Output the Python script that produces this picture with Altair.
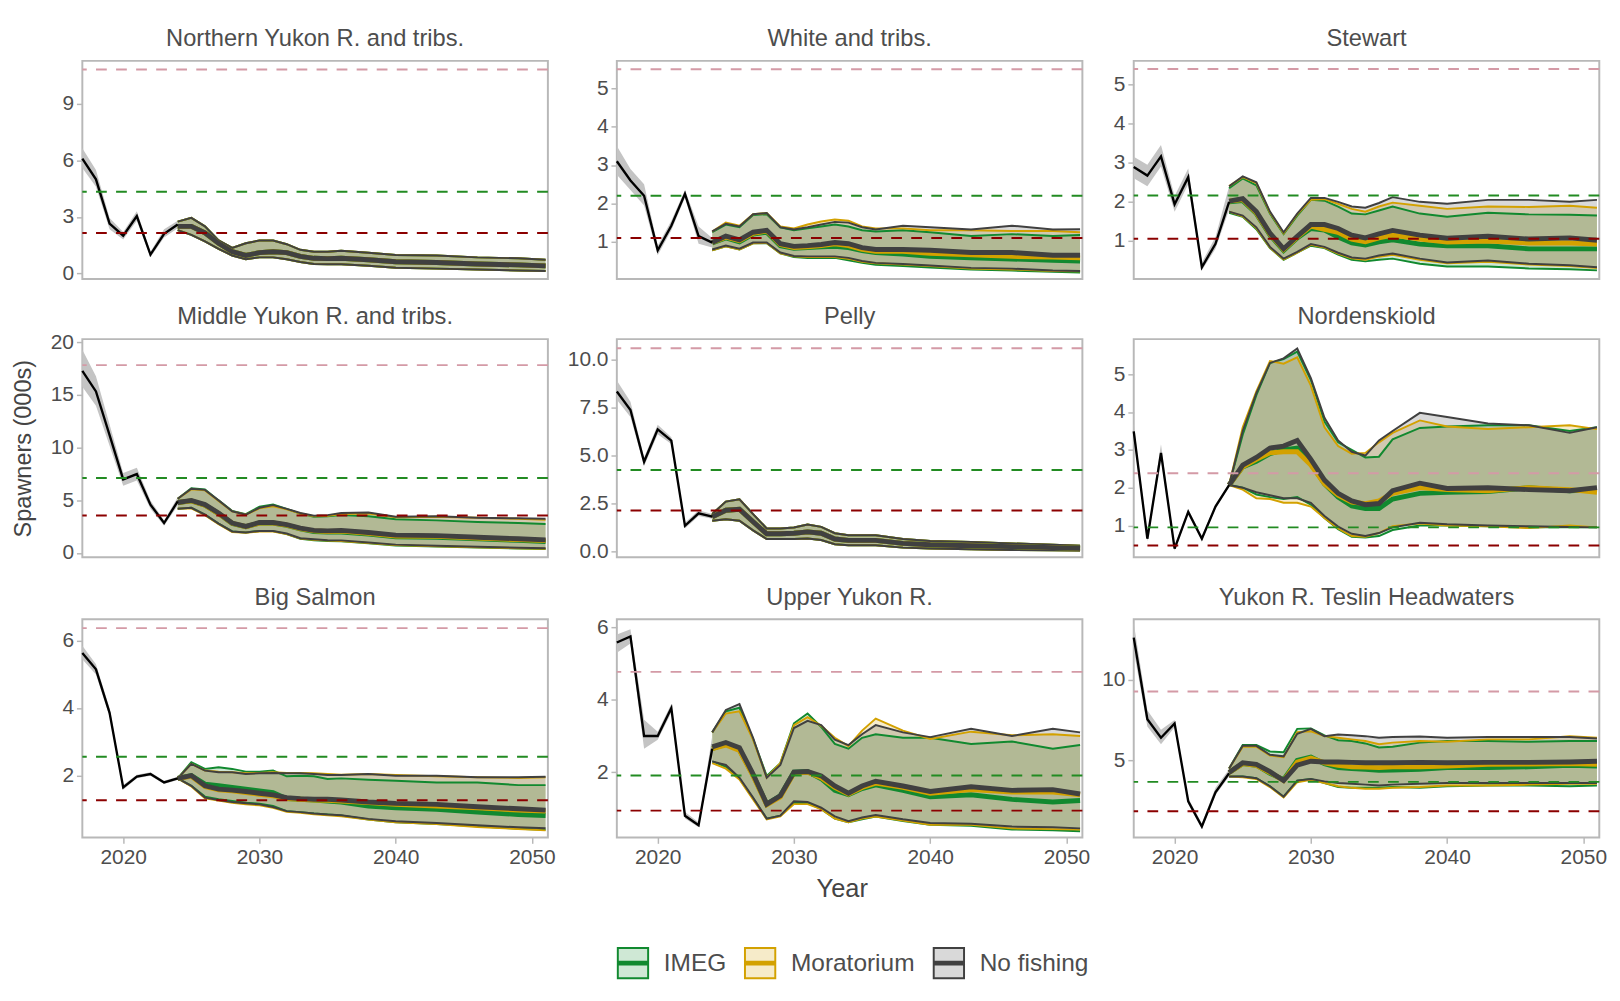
import altair as alt
import pandas as pd

HIST_YEARS = list(range(2017, 2025))
PROJ_YEARS = list(range(2024, 2037)) + [2038, 2040, 2043, 2046, 2049, 2051]
SCENARIOS = ["IMEG", "Moratorium", "No fishing"]
LINE_COLORS = ["#11892f", "#d3a100", "#404040"]
LEGEND_FILLS = ["#cfe8d5", "#f6ebc9", "#d9d9d9"]
REF_COLORS = ["#d49aa6", "#228b22", "#8b0000"]
X_TICKS = [2020, 2030, 2040, 2050]
X_DOMAIN = [2017, 2051.17]

# Northern Yukon R. and tribs. (scenarios overlap)
NY_HIST = [6.1, 5.0, 2.65, 2.0, 3.05, 1.0, 2.1, 2.6]
NY_HIST_LO = [5.6, 4.6, 2.35, 1.8, 2.8, 0.85, 1.9, 2.4]
NY_HIST_HI = [6.65, 5.5, 2.95, 2.2, 3.3, 1.15, 2.35, 2.8]
NY_HI = [2.75, 2.95, 2.5, 1.75, 1.35, 1.6, 1.75, 1.75, 1.55, 1.25, 1.15, 1.15, 1.2, 1.1, 0.98, 0.95, 0.85, 0.8, 0.72]
NY_MED = [2.5, 2.5, 2.15, 1.6, 1.15, 0.95, 1.1, 1.15, 1.1, 0.9, 0.8, 0.78, 0.8, 0.72, 0.62, 0.58, 0.5, 0.45, 0.4]
NY_LO = [2.3, 2.05, 1.7, 1.3, 0.95, 0.75, 0.85, 0.85, 0.75, 0.6, 0.5, 0.48, 0.48, 0.4, 0.3, 0.25, 0.2, 0.15, 0.12]
NY_REFS = [10.84, 4.34, 2.15]
NY_YDOM = [-0.3, 11.3]
NY_TICKS = [0, 3, 6, 9]

# White and tribs.
WH_HIST = [3.1, 2.6, 2.2, 0.78, 1.42, 2.25, 1.15, 0.98]
WH_HIST_LO = [2.75, 2.35, 1.95, 0.65, 1.3, 2.15, 0.95, 0.85]
WH_HIST_HI = [3.5, 2.9, 2.5, 0.9, 1.55, 2.35, 1.4, 1.1]
WH_NOF_HI = [1.27, 1.47, 1.4, 1.72, 1.75, 1.38, 1.32, 1.38, 1.45, 1.52, 1.5, 1.38, 1.32, 1.42, 1.38, 1.32, 1.42, 1.32, 1.33]
WH_MOR_HI = [1.27, 1.5, 1.42, 1.72, 1.75, 1.4, 1.35, 1.45, 1.53, 1.58, 1.55, 1.4, 1.35, 1.35, 1.3, 1.3, 1.28, 1.28, 1.25]
WH_IMEG_HI = [1.25, 1.45, 1.38, 1.7, 1.72, 1.38, 1.3, 1.35, 1.4, 1.45, 1.4, 1.3, 1.27, 1.3, 1.25, 1.15, 1.2, 1.15, 1.18]
WH_NOF_MED = [0.98, 1.15, 1.05, 1.25, 1.3, 0.95, 0.88, 0.9, 0.93, 0.98, 0.95, 0.85, 0.8, 0.8, 0.78, 0.72, 0.72, 0.65, 0.65]
WH_MOR_MED = [0.98, 1.12, 1.03, 1.22, 1.28, 0.93, 0.85, 0.87, 0.9, 0.95, 0.9, 0.8, 0.75, 0.75, 0.7, 0.66, 0.62, 0.6, 0.58]
WH_IMEG_MED = [0.97, 1.1, 1.0, 1.2, 1.25, 0.9, 0.83, 0.85, 0.87, 0.88, 0.85, 0.77, 0.72, 0.68, 0.62, 0.58, 0.55, 0.52, 0.5]
WH_NOF_LO = [0.8, 0.9, 0.82, 0.98, 0.98, 0.72, 0.63, 0.62, 0.62, 0.62, 0.58, 0.5, 0.45, 0.42, 0.38, 0.32, 0.3, 0.25, 0.24]
WH_MOR_LO = [0.78, 0.88, 0.8, 0.96, 0.97, 0.7, 0.62, 0.6, 0.6, 0.6, 0.56, 0.48, 0.44, 0.41, 0.37, 0.3, 0.28, 0.24, 0.23]
WH_IMEG_LO = [0.78, 0.88, 0.8, 0.96, 0.96, 0.7, 0.6, 0.58, 0.58, 0.58, 0.52, 0.45, 0.4, 0.37, 0.33, 0.28, 0.25, 0.22, 0.2]
WH_REFS = [5.5, 2.2, 1.1]
WH_YDOM = [0.03, 5.72]
WH_TICKS = [0, 1, 2, 3, 4, 5]

# Stewart
ST_HIST = [2.89, 2.67, 3.16, 1.94, 2.63, 0.33, 0.93, 2.0]
ST_HIST_LO = [2.6, 2.4, 2.9, 1.75, 2.45, 0.25, 0.8, 1.8]
ST_HIST_HI = [3.15, 2.95, 3.45, 2.15, 2.85, 0.45, 1.1, 2.4]
ST_NOF_HI = [2.4, 2.65, 2.5, 1.75, 1.22, 1.7, 2.1, 2.1, 2.0, 1.88, 1.85, 1.97, 2.12, 2.0, 1.95, 2.05, 2.05, 2.0, 2.05]
ST_MOR_HI = [2.4, 2.63, 2.48, 1.73, 1.2, 1.68, 2.05, 2.07, 1.95, 1.82, 1.75, 1.88, 1.98, 1.9, 1.82, 1.88, 1.87, 1.9, 1.85]
ST_IMEG_HI = [2.35, 2.6, 2.42, 1.7, 1.18, 1.65, 2.05, 2.03, 1.88, 1.7, 1.68, 1.78, 1.88, 1.7, 1.62, 1.72, 1.68, 1.67, 1.65]
ST_NOF_MED = [2.02, 2.08, 1.75, 1.2, 0.8, 1.12, 1.42, 1.42, 1.32, 1.15, 1.08, 1.18, 1.27, 1.15, 1.07, 1.12, 1.05, 1.08, 1.02]
ST_MOR_MED = [2.02, 2.06, 1.72, 1.18, 0.78, 1.1, 1.38, 1.3, 1.22, 1.05, 0.98, 1.08, 1.15, 1.05, 0.97, 1.0, 0.95, 0.95, 0.92]
ST_IMEG_MED = [2.0, 2.03, 1.7, 1.15, 0.76, 1.08, 1.32, 1.28, 1.1, 0.95, 0.9, 0.98, 1.03, 0.92, 0.88, 0.88, 0.8, 0.8, 0.8]
ST_NOF_LO = [1.75, 1.65, 1.35, 0.85, 0.55, 0.72, 0.92, 0.85, 0.7, 0.58, 0.55, 0.63, 0.68, 0.55, 0.45, 0.5, 0.42, 0.38, 0.33]
ST_MOR_LO = [1.75, 1.63, 1.33, 0.83, 0.53, 0.7, 0.9, 0.83, 0.68, 0.56, 0.52, 0.6, 0.65, 0.52, 0.43, 0.47, 0.4, 0.36, 0.31]
ST_IMEG_LO = [1.72, 1.62, 1.3, 0.82, 0.52, 0.7, 0.88, 0.82, 0.65, 0.52, 0.48, 0.52, 0.55, 0.42, 0.35, 0.35, 0.3, 0.28, 0.25]
ST_REFS = [5.39, 2.16, 1.06]
ST_YDOM = [0.03, 5.6]
ST_TICKS = [0, 1, 2, 3, 4, 5]

# Middle Yukon R. and tribs.
MY_HIST = [17.3, 15.35, 11.2, 7.0, 7.5, 4.6, 2.85, 4.9]
MY_HIST_LO = [15.8, 14.0, 10.2, 6.4, 6.9, 4.2, 2.6, 4.5]
MY_HIST_HI = [19.3, 16.8, 12.2, 7.6, 8.1, 5.0, 3.1, 5.3]
MY_NOF_HI = [5.15, 6.1, 6.0, 5.0, 3.97, 3.65, 4.3, 4.55, 4.2, 3.8, 3.55, 3.6, 3.8, 3.85, 3.45, 3.5, 3.35, 3.3, 3.25]
MY_MOR_HI = [5.15, 6.05, 5.95, 4.95, 3.95, 3.65, 4.25, 4.45, 4.15, 3.75, 3.5, 3.55, 3.7, 3.75, 3.4, 3.45, 3.35, 3.25, 3.15]
MY_IMEG_HI = [5.15, 6.15, 6.05, 5.0, 4.0, 3.7, 4.4, 4.6, 4.2, 3.75, 3.45, 3.5, 3.6, 3.5, 3.2, 3.1, 2.95, 2.85, 2.75]
MY_NOF_MED = [4.8, 5.0, 4.6, 3.8, 2.85, 2.53, 2.9, 2.9, 2.7, 2.37, 2.15, 2.1, 2.15, 1.95, 1.7, 1.65, 1.5, 1.35, 1.25]
MY_MOR_MED = [4.8, 4.95, 4.55, 3.75, 2.82, 2.5, 2.85, 2.85, 2.65, 2.32, 2.1, 2.05, 2.08, 1.88, 1.62, 1.58, 1.42, 1.28, 1.18]
MY_IMEG_MED = [4.8, 4.95, 4.55, 3.75, 2.8, 2.5, 2.85, 2.85, 2.62, 2.3, 2.05, 2.0, 2.0, 1.8, 1.55, 1.5, 1.35, 1.2, 1.1]
MY_NOF_LO = [4.2, 4.3, 3.65, 2.8, 2.05, 1.95, 2.1, 2.1, 1.85, 1.4, 1.3, 1.22, 1.2, 1.0, 0.8, 0.7, 0.6, 0.5, 0.45]
MY_MOR_LO = [4.2, 4.25, 3.6, 2.75, 2.0, 1.92, 2.05, 2.05, 1.8, 1.37, 1.25, 1.18, 1.15, 0.95, 0.75, 0.65, 0.55, 0.45, 0.4]
MY_IMEG_LO = [4.2, 4.3, 3.65, 2.8, 2.05, 1.95, 2.1, 2.08, 1.8, 1.35, 1.22, 1.15, 1.12, 0.92, 0.72, 0.62, 0.52, 0.43, 0.38]
MY_REFS = [17.85, 7.12, 3.56]
MY_YDOM = [-0.4, 20.32]
MY_TICKS = [0, 5, 10, 15, 20]

# Pelly (scenarios overlap)
PE_HIST = [8.33, 7.37, 4.67, 6.36, 5.77, 1.34, 1.99, 1.81]
PE_HIST_LO = [7.9, 7.0, 4.45, 6.1, 5.6, 1.2, 1.85, 1.7]
PE_HIST_HI = [8.9, 7.8, 4.9, 6.6, 5.95, 1.5, 2.15, 1.95]
PE_HI = [1.95, 2.6, 2.72, 1.95, 1.2, 1.2, 1.25, 1.4, 1.28, 0.95, 0.85, 0.85, 0.85, 0.65, 0.55, 0.5, 0.42, 0.35, 0.3]
PE_MED = [1.8, 2.15, 2.2, 1.55, 0.92, 0.92, 0.95, 1.02, 0.95, 0.65, 0.58, 0.58, 0.58, 0.42, 0.35, 0.3, 0.25, 0.2, 0.17]
PE_LO = [1.6, 1.68, 1.6, 1.1, 0.65, 0.65, 0.65, 0.68, 0.6, 0.38, 0.32, 0.32, 0.32, 0.2, 0.15, 0.12, 0.08, 0.06, 0.05]
PE_REFS = [10.58, 4.24, 2.13]
PE_YDOM = [-0.3, 11.06]
PE_TICKS = [0, 2.5, 5, 7.5, 10]

# Nordenskiold
NO_HIST = [3.49, 0.65, 2.92, 0.39, 1.36, 0.65, 1.5, 2.07]
NO_HIST_LO = [3.3, 0.58, 2.75, 0.33, 1.3, 0.6, 1.45, 2.02]
NO_HIST_HI = [3.7, 0.75, 3.15, 0.47, 1.43, 0.72, 1.56, 2.12]
NO_NOF_HI = [2.07, 3.5, 4.5, 5.3, 5.42, 5.68, 4.9, 3.85, 3.25, 2.95, 2.85, 3.25, 3.5, 3.98, 3.87, 3.7, 3.65, 3.45, 3.6]
NO_MOR_HI = [2.07, 3.6, 4.55, 5.35, 5.28, 5.45, 4.7, 3.6, 3.1, 2.9, 2.92, 3.2, 3.45, 3.78, 3.62, 3.55, 3.6, 3.65, 3.55]
NO_IMEG_HI = [2.07, 3.4, 4.45, 5.3, 5.4, 5.6, 4.85, 3.75, 3.2, 3.0, 2.8, 2.82, 3.28, 3.58, 3.62, 3.65, 3.65, 3.5, 3.6]
NO_NOF_MED = [2.07, 2.6, 2.8, 3.05, 3.1, 3.25, 2.75, 2.2, 1.85, 1.65, 1.55, 1.58, 1.92, 2.12, 1.98, 2.0, 1.95, 1.92, 2.0]
NO_MOR_MED = [2.07, 2.55, 2.75, 2.92, 2.95, 2.95, 2.6, 2.1, 1.8, 1.62, 1.58, 1.65, 1.85, 2.0, 1.95, 1.92, 2.0, 1.95, 1.88]
NO_IMEG_MED = [2.07, 2.55, 2.7, 2.9, 3.0, 3.05, 2.65, 2.1, 1.75, 1.52, 1.45, 1.45, 1.7, 1.85, 1.88, 1.9, 2.0, 1.92, 1.95]
NO_NOF_LO = [2.07, 2.0, 1.88, 1.8, 1.72, 1.72, 1.6, 1.25, 0.97, 0.78, 0.72, 0.8, 0.95, 1.07, 1.03, 1.0, 0.98, 0.96, 0.95]
NO_MOR_LO = [2.07, 1.95, 1.72, 1.7, 1.6, 1.6, 1.5, 1.2, 0.92, 0.72, 0.7, 0.8, 0.98, 1.05, 1.0, 0.98, 0.93, 1.0, 0.95]
NO_IMEG_LO = [2.07, 2.0, 1.82, 1.75, 1.7, 1.75, 1.55, 1.2, 0.9, 0.7, 0.68, 0.72, 0.88, 1.0, 1.0, 0.98, 0.95, 0.95, 0.95]
NO_REFS = [2.38, 0.95, 0.47]
NO_YDOM = [0.16, 5.93]
NO_TICKS = [1, 2, 3, 4, 5]

# Big Salmon
BS_HIST = [5.63, 5.15, 3.86, 1.65, 1.97, 2.05, 1.8, 1.92]
BS_HIST_LO = [5.45, 5.0, 3.75, 1.58, 1.92, 2.0, 1.75, 1.87]
BS_HIST_HI = [5.85, 5.3, 4.0, 1.72, 2.03, 2.1, 1.85, 1.97]
BS_NOF_HI = [1.92, 2.35, 2.15, 2.1, 2.1, 2.05, 2.07, 2.08, 2.07, 2.07, 2.05, 2.02, 2.02, 2.05, 2.0, 2.0, 1.95, 1.95, 1.97]
BS_MOR_HI = [1.92, 2.35, 2.15, 2.12, 2.1, 2.07, 2.08, 2.1, 2.08, 2.08, 2.07, 2.05, 2.03, 2.05, 2.02, 1.98, 1.95, 1.93, 1.95]
BS_IMEG_HI = [1.92, 2.4, 2.2, 2.25, 2.2, 2.12, 2.12, 2.15, 1.98, 2.0, 1.98, 1.9, 1.92, 1.88, 1.85, 1.8, 1.8, 1.72, 1.72]
BS_NOF_MED = [1.92, 2.0, 1.7, 1.6, 1.57, 1.53, 1.48, 1.43, 1.35, 1.32, 1.3, 1.3, 1.28, 1.22, 1.18, 1.15, 1.08, 1.02, 0.98]
BS_MOR_MED = [1.92, 1.98, 1.68, 1.58, 1.55, 1.5, 1.45, 1.4, 1.32, 1.3, 1.28, 1.27, 1.25, 1.2, 1.15, 1.1, 1.05, 0.98, 0.95]
BS_IMEG_MED = [1.92, 2.0, 1.75, 1.7, 1.65, 1.6, 1.55, 1.5, 1.32, 1.3, 1.28, 1.25, 1.22, 1.1, 1.05, 1.0, 0.92, 0.85, 0.82]
BS_NOF_LO = [1.92, 1.7, 1.35, 1.28, 1.22, 1.18, 1.15, 1.07, 0.95, 0.92, 0.88, 0.85, 0.83, 0.72, 0.65, 0.6, 0.53, 0.47, 0.44]
BS_MOR_LO = [1.92, 1.68, 1.33, 1.26, 1.2, 1.15, 1.12, 1.05, 0.93, 0.9, 0.86, 0.83, 0.8, 0.7, 0.62, 0.57, 0.48, 0.42, 0.38]
BS_IMEG_LO = [1.92, 1.7, 1.38, 1.3, 1.25, 1.2, 1.17, 1.1, 0.95, 0.92, 0.88, 0.85, 0.82, 0.7, 0.62, 0.57, 0.5, 0.43, 0.4]
BS_REFS = [6.37, 2.56, 1.27]
BS_YDOM = [0.17, 6.63]
BS_TICKS = [2, 4, 6]

# Upper Yukon R.
UY_HIST = [5.58, 5.75, 3.0, 3.0, 3.77, 0.8, 0.54, 2.65]
UY_HIST_LO = [5.3, 5.55, 2.65, 2.9, 3.65, 0.72, 0.48, 2.5]
UY_HIST_HI = [5.8, 5.95, 3.45, 3.12, 3.88, 0.9, 0.62, 3.0]
UY_NOF_HI = [3.1, 3.72, 3.88, 2.95, 1.85, 2.2, 3.22, 3.42, 3.3, 2.9, 2.75, 3.05, 3.3, 3.1, 2.97, 3.2, 3.0, 3.2, 3.1]
UY_MOR_HI = [3.1, 3.62, 3.68, 2.9, 1.85, 2.25, 3.3, 3.52, 3.28, 2.95, 2.72, 3.15, 3.48, 3.15, 2.92, 3.12, 3.02, 3.05, 3.0]
UY_IMEG_HI = [3.1, 3.68, 3.78, 2.92, 1.9, 2.25, 3.35, 3.62, 3.25, 2.78, 2.65, 2.95, 3.05, 2.95, 2.95, 2.78, 2.85, 2.65, 2.75]
UY_NOF_MED = [2.7, 2.82, 2.68, 1.95, 1.12, 1.35, 2.0, 2.02, 1.9, 1.62, 1.42, 1.62, 1.75, 1.62, 1.47, 1.6, 1.5, 1.52, 1.4]
UY_MOR_MED = [2.65, 2.75, 2.6, 1.9, 1.1, 1.32, 1.98, 2.0, 1.85, 1.58, 1.4, 1.58, 1.7, 1.58, 1.42, 1.52, 1.45, 1.45, 1.38]
UY_IMEG_MED = [2.65, 2.78, 2.62, 1.92, 1.12, 1.35, 2.0, 2.02, 1.82, 1.5, 1.38, 1.55, 1.65, 1.5, 1.32, 1.38, 1.25, 1.18, 1.22]
UY_NOF_LO = [2.3, 2.2, 1.85, 1.3, 0.72, 0.8, 1.2, 1.18, 1.02, 0.78, 0.65, 0.75, 0.82, 0.7, 0.6, 0.58, 0.5, 0.48, 0.45]
UY_MOR_LO = [2.25, 2.1, 1.8, 1.25, 0.7, 0.78, 1.12, 1.12, 0.98, 0.72, 0.62, 0.72, 0.78, 0.67, 0.55, 0.55, 0.45, 0.43, 0.42]
UY_IMEG_LO = [2.3, 2.15, 1.82, 1.28, 0.72, 0.8, 1.15, 1.15, 0.98, 0.72, 0.62, 0.7, 0.78, 0.65, 0.55, 0.52, 0.42, 0.4, 0.37]
UY_REFS = [4.77, 1.91, 0.94]
UY_YDOM = [0.2, 6.22]
UY_TICKS = [2, 4, 6]

# Yukon R. Teslin Headwaters
TE_HIST = [12.6, 7.55, 6.4, 7.28, 2.47, 0.91, 3.03, 4.2]
TE_HIST_LO = [11.8, 7.1, 6.0, 7.05, 2.3, 0.75, 2.85, 4.0]
TE_HIST_HI = [13.5, 8.1, 6.9, 7.5, 2.65, 1.1, 3.3, 4.45]
TE_NOF_HI = [4.5, 5.9, 5.9, 5.35, 5.25, 6.65, 6.95, 6.5, 6.6, 6.55, 6.5, 6.4, 6.45, 6.48, 6.4, 6.45, 6.45, 6.45, 6.35]
TE_MOR_HI = [4.5, 5.85, 5.85, 5.3, 5.2, 6.75, 6.8, 6.5, 6.4, 6.3, 6.2, 6.0, 6.1, 6.2, 6.15, 6.3, 6.3, 6.5, 6.4]
TE_IMEG_HI = [4.5, 5.95, 5.95, 5.55, 5.5, 6.95, 6.98, 6.55, 6.25, 6.2, 6.05, 5.8, 5.85, 6.1, 6.2, 6.2, 6.15, 6.2, 6.2]
TE_NOF_MED = [4.25, 4.85, 4.75, 4.3, 3.75, 4.7, 4.95, 4.9, 4.9, 4.88, 4.85, 4.85, 4.85, 4.88, 4.85, 4.88, 4.88, 4.9, 4.95]
TE_MOR_MED = [4.25, 4.8, 4.7, 4.25, 3.75, 4.9, 5.15, 4.85, 4.7, 4.6, 4.58, 4.55, 4.6, 4.6, 4.65, 4.75, 4.78, 4.8, 4.75]
TE_IMEG_MED = [4.25, 4.8, 4.7, 4.2, 3.8, 5.0, 5.2, 4.8, 4.55, 4.5, 4.45, 4.38, 4.4, 4.45, 4.55, 4.55, 4.6, 4.7, 4.65]
TE_NOF_LO = [4.0, 4.0, 3.9, 3.4, 2.75, 3.75, 3.85, 3.7, 3.6, 3.55, 3.5, 3.45, 3.5, 3.55, 3.6, 3.6, 3.6, 3.6, 3.6]
TE_MOR_LO = [4.0, 3.95, 3.85, 3.35, 2.7, 3.65, 3.8, 3.6, 3.4, 3.3, 3.25, 3.25, 3.3, 3.35, 3.45, 3.45, 3.5, 3.55, 3.55]
TE_IMEG_LO = [4.0, 4.0, 3.9, 3.4, 2.75, 3.75, 3.85, 3.6, 3.35, 3.3, 3.3, 3.3, 3.35, 3.3, 3.4, 3.45, 3.45, 3.4, 3.45]
TE_REFS = [9.27, 3.67, 1.85]
TE_YDOM = [0.23, 13.73]
TE_TICKS = [5, 10]

PANELS = [
    ("Northern Yukon R. and tribs.", NY_HIST, NY_HIST_LO, NY_HIST_HI,
     [(NY_LO, NY_MED, NY_HI)] * 3, NY_REFS, NY_YDOM, NY_TICKS, "d"),
    ("White and tribs.", WH_HIST, WH_HIST_LO, WH_HIST_HI,
     [(WH_IMEG_LO, WH_IMEG_MED, WH_IMEG_HI), (WH_MOR_LO, WH_MOR_MED, WH_MOR_HI), (WH_NOF_LO, WH_NOF_MED, WH_NOF_HI)],
     WH_REFS, WH_YDOM, WH_TICKS, "d"),
    ("Stewart", ST_HIST, ST_HIST_LO, ST_HIST_HI,
     [(ST_IMEG_LO, ST_IMEG_MED, ST_IMEG_HI), (ST_MOR_LO, ST_MOR_MED, ST_MOR_HI), (ST_NOF_LO, ST_NOF_MED, ST_NOF_HI)],
     ST_REFS, ST_YDOM, ST_TICKS, "d"),
    ("Middle Yukon R. and tribs.", MY_HIST, MY_HIST_LO, MY_HIST_HI,
     [(MY_IMEG_LO, MY_IMEG_MED, MY_IMEG_HI), (MY_MOR_LO, MY_MOR_MED, MY_MOR_HI), (MY_NOF_LO, MY_NOF_MED, MY_NOF_HI)],
     MY_REFS, MY_YDOM, MY_TICKS, "d"),
    ("Pelly", PE_HIST, PE_HIST_LO, PE_HIST_HI,
     [(PE_LO, PE_MED, PE_HI)] * 3, PE_REFS, PE_YDOM, PE_TICKS, ".1f"),
    ("Nordenskiold", NO_HIST, NO_HIST_LO, NO_HIST_HI,
     [(NO_IMEG_LO, NO_IMEG_MED, NO_IMEG_HI), (NO_MOR_LO, NO_MOR_MED, NO_MOR_HI), (NO_NOF_LO, NO_NOF_MED, NO_NOF_HI)],
     NO_REFS, NO_YDOM, NO_TICKS, "d"),
    ("Big Salmon", BS_HIST, BS_HIST_LO, BS_HIST_HI,
     [(BS_IMEG_LO, BS_IMEG_MED, BS_IMEG_HI), (BS_MOR_LO, BS_MOR_MED, BS_MOR_HI), (BS_NOF_LO, BS_NOF_MED, BS_NOF_HI)],
     BS_REFS, BS_YDOM, BS_TICKS, "d"),
    ("Upper Yukon R.", UY_HIST, UY_HIST_LO, UY_HIST_HI,
     [(UY_IMEG_LO, UY_IMEG_MED, UY_IMEG_HI), (UY_MOR_LO, UY_MOR_MED, UY_MOR_HI), (UY_NOF_LO, UY_NOF_MED, UY_NOF_HI)],
     UY_REFS, UY_YDOM, UY_TICKS, "d"),
    ("Yukon R. Teslin Headwaters", TE_HIST, TE_HIST_LO, TE_HIST_HI,
     [(TE_IMEG_LO, TE_IMEG_MED, TE_IMEG_HI), (TE_MOR_LO, TE_MOR_MED, TE_MOR_HI), (TE_NOF_LO, TE_NOF_MED, TE_NOF_HI)],
     TE_REFS, TE_YDOM, TE_TICKS, "d"),
]

FONT = "Liberation Sans"
TEXT = "#4d4d4d"
FRAME = "#b8b8b8"
PANEL_W = 476
PANEL_H = 223
# legend key: outlined box with a thick bar through the middle
LEGEND_SYMBOL = "M-1,-1H1V1H-1Z M-1,-0.1H1 M-1,0H1 M-1,0.1H1"


def make_panel(i, spec):
    title, hist, hist_lo, hist_hi, proj, refs, ydom, yticks, yfmt = spec
    row = i // 3
    hist_df = pd.DataFrame({"year": HIST_YEARS, "v": hist, "lo": hist_lo, "hi": hist_hi})
    proj_df = pd.concat(
        [pd.DataFrame({"scenario": s, "col": c, "year": PROJ_YEARS, "lo": lo, "med": med, "hi": hi})
         for s, c, (lo, med, hi) in zip(SCENARIOS, LINE_COLORS, proj)],
        ignore_index=True,
    )

    xscale = alt.Scale(domain=X_DOMAIN, nice=False, zero=False)
    if row == 2:
        xaxis = alt.Axis(values=X_TICKS, format="d", labelFontSize=21.4, labelColor=TEXT,
                         tickColor=FRAME, tickSize=6, tickWidth=1.5, labelPadding=4,
                         grid=False, domain=False, titleFontSize=26, titleColor="#444444",
                         titleFontWeight="normal", titleX=230, titleY=60,
                         titleBaseline="alphabetic")
    else:
        xaxis = None
    xtitle = "Year" if i == 7 else None
    ytitle = "Spawners (000s)" if i == 3 else None
    x = alt.X("year:Q", scale=xscale, axis=xaxis, title=xtitle)

    yscale = alt.Scale(domain=ydom, nice=False, zero=False)
    yaxis = alt.Axis(values=yticks, format=yfmt, labelFontSize=21.4, labelColor=TEXT,
                     tickColor=FRAME, tickSize=6, tickWidth=1.5, labelPadding=3,
                     titlePadding=15, titleFontSize=24, titleColor="#444444",
                     titleFontWeight="normal", grid=False, domain=False)

    def y(field):
        return alt.Y(f"{field}:Q", scale=yscale, axis=yaxis, title=ytitle, stack=None)

    # scenario colours come straight from the data column, so no shared scale
    band = alt.Chart(proj_df).mark_area(fillOpacity=0.2, strokeWidth=0).encode(
        x=x, y=y("lo"), y2="hi:Q",
        color=alt.Color("col:N", scale=None),
        detail="scenario:N",
    )
    hist_band = alt.Chart(hist_df).mark_area(color="#c4c4c4").encode(x=x, y=y("lo"), y2="hi:Q")

    def proj_line(field, width):
        return alt.Chart(proj_df).mark_line(strokeWidth=width).encode(
            x=x, y=y(field),
            stroke=alt.Stroke("col:N", scale=None),
            detail="scenario:N",
        )

    hist_line = alt.Chart(hist_df).mark_line(color="black", strokeWidth=2.4).encode(x=x, y=y("v"))

    rules = [
        alt.Chart(pd.DataFrame({"v": [r]})).mark_rule(
            color=c, strokeWidth=2, strokeDash=[11, 9.5]
        ).encode(y=y("v"))
        for r, c in zip(refs, REF_COLORS)
    ]

    # strip title drawn as text just above the frame
    strip = alt.Chart(pd.DataFrame({"t": [title]})).mark_text(
        fontSize=24.2, color=TEXT, font=FONT, baseline="alphabetic", align="center"
    ).encode(text="t:N", x=alt.value(PANEL_W / 2), y=alt.value(-15))

    layers = [band, hist_band, proj_line("lo", 2), proj_line("hi", 2),
              proj_line("med", 5), hist_line] + rules + [strip]

    if i == 7:
        leg = alt.Legend(title=None, orient="none", legendX=0, legendY=335,
                         direction="horizontal", symbolType=LEGEND_SYMBOL, symbolSize=961,
                         symbolStrokeWidth=2, labelFontSize=25, labelColor=TEXT,
                         labelFont=FONT, labelOffset=15, columnPadding=15, padding=0)
        leg_df = pd.DataFrame({"scenario": SCENARIOS, "year": [None] * 3, "v": [None] * 3})
        layers.append(
            alt.Chart(leg_df).mark_point(shape=LEGEND_SYMBOL, filled=True, size=961,
                                         strokeWidth=2, opacity=1).encode(
                x=x, y=y("v"),
                fill=alt.Fill("scenario:N", scale=alt.Scale(domain=SCENARIOS, range=LEGEND_FILLS), legend=leg),
                stroke=alt.Stroke("scenario:N", scale=alt.Scale(domain=SCENARIOS, range=LINE_COLORS), legend=leg),
            )
        )

    return alt.layer(*layers).properties(width=PANEL_W, height=PANEL_H)


panels = [make_panel(i, spec) for i, spec in enumerate(PANELS)]

chart = alt.concat(
    *panels, columns=3, spacing={"row": 20.5, "column": 9.5}, align="each"
).resolve_scale(
    stroke="independent", fill="independent"
).properties(
    padding={"left": 3, "top": 7, "right": 4, "bottom": 90}
).configure(
    font=FONT
).configure_view(
    stroke=FRAME, strokeWidth=2
)

chart.save("out.html", embed_options={"renderer": "svg", "actions": False})
